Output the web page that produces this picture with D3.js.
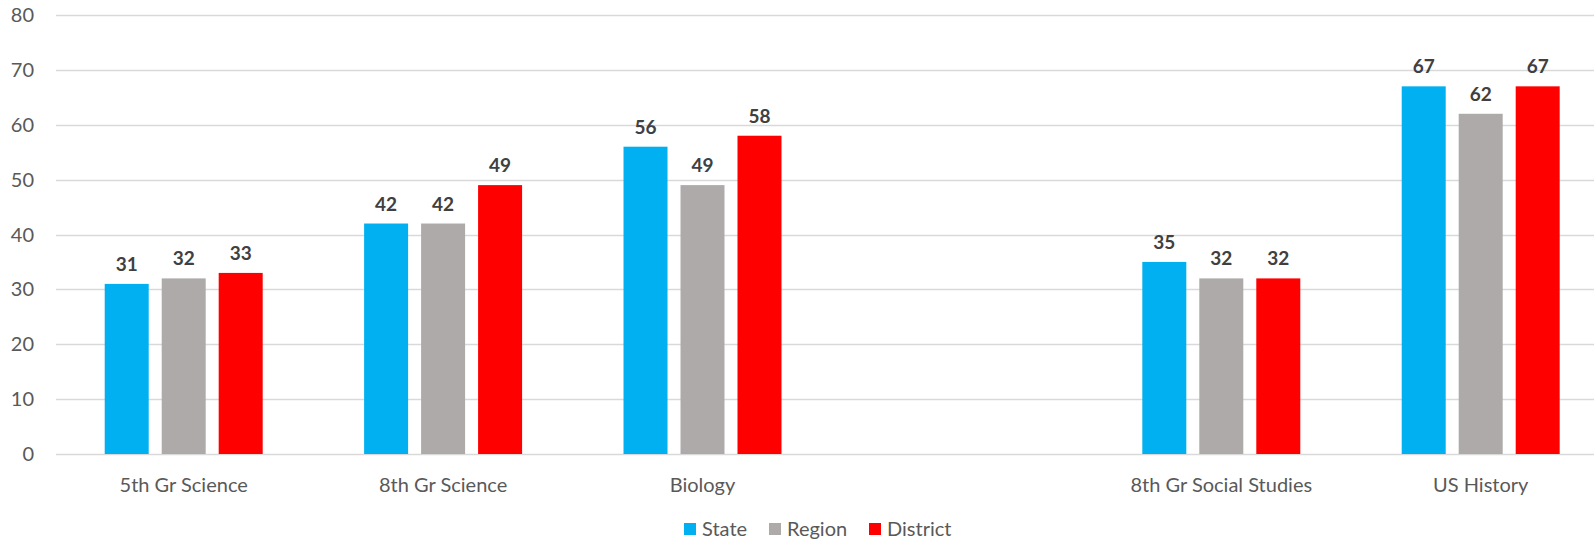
<!DOCTYPE html>
<html>
<head>
<meta charset="utf-8">
<script src="https://cdn.jsdelivr.net/npm/d3@7"></script>
<style>
  body { margin: 0; background: #fff; }
  text { font-family: Lato, "Open Sans", sans-serif; }
</style>
</head>
<body>
<div id="chart"></div>
<script>
// data
var categories = ["5th Gr Science", "8th Gr Science", "Biology", "", "8th Gr Social Studies", "US History"];
var seriesNames = ["State", "Region", "District"];
var stateVals = [31, 42, 56, null, 35, 67];
var regionVals = [32, 42, 49, null, 32, 62];
var districtVals = [33, 49, 58, null, 32, 67];
var yTicks = [0, 10, 20, 30, 40, 50, 60, 70, 80];

var colors = ["#00B0F0", "#AEAAAA", "#FF0000"];

var width = 1594, height = 541;

var svg = d3.select("#chart").append("svg")
    .attr("width", width)
    .attr("height", height);

var rows = categories.map(function(c, i) {
    return {cat: c, key: "c" + i, vals: [stateVals[i], regionVals[i], districtVals[i]]};
});

// chart is cut off on the right, the plot runs past the window edge
var x0 = d3.scaleBand()
    .domain(rows.map(d => d.key))
    .range([54, 54 + 6 * 259.4])
    .paddingInner(0.391)
    .paddingOuter(0.1955);

var x1 = d3.scaleBand()
    .domain(seriesNames)
    .range([0, x0.bandwidth()])
    .paddingInner(0.228);

var y = d3.scaleLinear()
    .domain([0, 80])
    .range([454, 15]);

// gridlines
svg.append("g")
    .selectAll("line")
    .data(yTicks)
    .join("line")
    .attr("x1", 56)
    .attr("x2", width)
    .attr("y1", d => Math.round(y(d)) + 0.5)
    .attr("y2", d => Math.round(y(d)) + 0.5)
    .attr("stroke", "#D9D9D9")
    .attr("stroke-width", 1.3);

// y axis labels
svg.append("g")
    .selectAll("text")
    .data(yTicks)
    .join("text")
    .attr("x", 34)
    .attr("y", d => y(d) + 7)
    .attr("text-anchor", "end")
    .attr("fill", "#595959")
    .style("font-size", "20px")
    .text(d => d);

// bars
var groups = svg.append("g")
    .selectAll("g")
    .data(rows)
    .join("g")
    .attr("transform", d => "translate(" + x0(d.key) + ",0)");

var cells = groups.selectAll("g")
    .data(d => d.vals.map((v, i) => ({name: seriesNames[i], value: v, idx: i})).filter(e => e.value != null))
    .join("g");

cells.append("rect")
    .attr("x", d => x1(d.name))
    .attr("width", x1.bandwidth())
    .attr("y", d => y(d.value))
    .attr("height", d => y(0) - y(d.value))
    .attr("fill", d => colors[d.idx]);

cells.append("text")
    .attr("x", d => x1(d.name) + x1.bandwidth() / 2)
    .attr("y", d => y(d.value) - 13)
    .attr("text-anchor", "middle")
    .attr("fill", "#404040")
    .style("font-size", "19px")
    .style("font-weight", "bold")
    .text(d => d.value);

// category labels
svg.append("g")
    .selectAll("text")
    .data(rows)
    .join("text")
    .attr("x", d => x0(d.key) + x0.bandwidth() / 2)
    .attr("y", 492)
    .attr("text-anchor", "middle")
    .attr("fill", "#595959")
    .style("font-size", "20px")
    .text(d => d.cat);

// legend
var legendX = [684, 769, 869];
var legend = svg.append("g")
    .selectAll("g")
    .data(seriesNames)
    .join("g")
    .attr("transform", (d, i) => "translate(" + legendX[i] + ",523)");

legend.append("rect")
    .attr("width", 12)
    .attr("height", 12)
    .attr("fill", (d, i) => colors[i]);

legend.append("text")
    .attr("x", 18)
    .attr("y", 12.5)
    .attr("fill", "#595959")
    .style("font-size", "20px")
    .text(d => d);
</script>
</body>
</html>
